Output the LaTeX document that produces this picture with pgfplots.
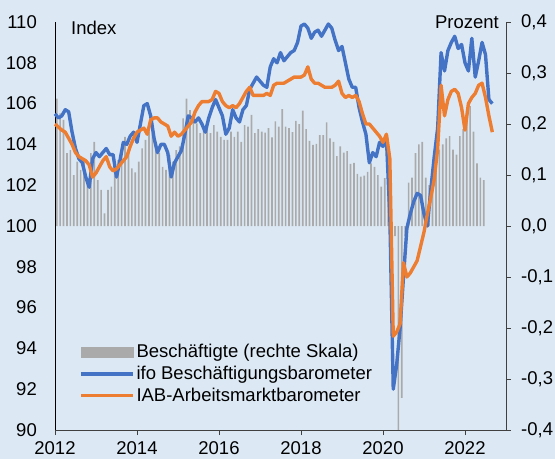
\documentclass[border=0pt]{standalone}
\usepackage{pgfplots}
\pgfplotsset{compat=1.18}
\usepackage{pgfplotstable}
\usepackage{fontspec}
\setmainfont{Liberation Sans}
\definecolor{bg}{RGB}{220,233,245}
\definecolor{ifoblue}{RGB}{68,114,196}
\definecolor{iaborange}{RGB}{237,125,49}
\definecolor{bargray}{RGB}{170,170,170}

\pgfplotstableread{
j v
0 0.250
1 0.221
2 0.208
3 0.143
4 0.149
5 0.100
6 0.126
7 0.110
8 0.129
9 0.090
10 0.143
11 0.165
12 0.090
13 0.071
14 0.025
15 0.071
16 0.077
17 0.110
18 0.129
19 0.149
20 0.175
21 0.149
22 0.113
23 0.105
24 0.126
25 0.152
26 0.169
27 0.185
28 0.182
29 0.156
30 0.143
31 0.116
32 0.110
33 0.139
34 0.126
35 0.149
36 0.156
37 0.211
38 0.250
39 0.227
40 0.218
41 0.201
42 0.182
43 0.192
44 0.201
45 0.182
46 0.198
47 0.185
48 0.175
49 0.169
50 0.169
51 0.185
52 0.175
53 0.185
54 0.165
55 0.198
56 0.195
57 0.218
58 0.182
59 0.190
60 0.185
61 0.183
62 0.192
63 0.174
64 0.205
65 0.195
66 0.229
67 0.195
68 0.192
69 0.184
70 0.206
71 0.200
72 0.226
73 0.190
74 0.167
75 0.159
76 0.161
77 0.178
78 0.178
79 0.203
80 0.172
81 0.165
82 0.137
83 0.156
84 0.144
85 0.147
86 0.122
87 0.124
88 0.102
89 0.097
90 0.099
91 0.106
92 0.123
93 0.116
94 0.100
95 0.077
96 0.094
97 0.080
98 0.000
99 -0.020
100 -0.400
101 -0.337
102 -0.020
103 0.085
104 0.095
105 0.143
106 0.160
107 0.165
108 0.095
109 0.080
110 0.100
111 0.123
112 0.150
113 0.160
114 0.172
115 0.176
116 0.150
117 0.140
118 0.176
119 0.190
120 0.215
121 0.235
122 0.185
123 0.123
124 0.095
125 0.090
}\bars

\pgfplotstableread{
i v
0 105.5
1 105.3
2 105.4
3 105.7
4 105.6
5 104.6
6 103.8
7 103.3
8 103.1
9 102.4
10 101.9
11 103.3
12 103.6
13 103.4
14 103.6
15 103.8
16 103.5
17 103.5
18 102.4
19 103.2
20 104.1
21 104.0
22 104.4
23 104.6
24 104.1
25 105.0
26 105.9
27 106.0
28 105.4
29 104.3
30 103.6
31 104.0
32 104.0
33 103.6
34 102.4
35 103.1
36 103.4
37 103.7
38 104.5
39 105.4
40 105.3
41 105.1
42 105.3
43 105.0
44 104.6
45 105.3
46 105.8
47 106.2
48 105.8
49 105.4
50 104.5
51 104.8
52 105.7
53 105.3
54 105.1
55 105.7
56 105.9
57 106.7
58 107.0
59 107.3
60 107.1
61 106.9
62 106.8
63 107.8
64 108.2
65 108.0
66 108.5
67 108.1
68 108.3
69 108.5
70 108.6
71 109.0
72 109.8
73 109.9
74 109.7
75 109.2
76 109.5
77 109.6
78 109.3
79 109.6
80 109.9
81 109.7
82 109.1
83 108.6
84 108.8
85 108.0
86 107.2
87 106.8
88 106.8
89 105.8
90 105.1
91 104.5
92 103.1
93 103.6
94 103.4
95 104.1
96 103.9
97 104.3
98 100.5
99 92.0
100 93.2
101 95.0
102 97.5
103 99.9
104 100.6
105 101.2
106 101.6
107 101.5
108 100.6
109 100.0
110 101.8
111 103.4
112 104.8
113 108.5
114 107.6
115 108.6
116 109.0
117 109.3
118 108.7
119 108.9
120 108.0
121 107.6
122 109.2
123 107.3
124 108.1
125 109.0
126 108.4
127 106.2
128 106.0
}\ifo

\pgfplotstableread{
i v
0 105.0
1 104.85
2 104.7
3 104.6
4 104.3
5 104.0
6 103.6
7 103.4
8 103.3
9 103.2
10 103.0
11 102.4
12 102.6
13 102.9
14 103.2
15 103.4
16 102.9
17 102.7
18 102.8
19 103.0
20 103.2
21 103.4
22 103.9
23 104.3
24 104.6
25 104.7
26 104.8
27 104.5
28 105.2
29 105.3
30 105.3
31 105.1
32 105.0
33 104.9
34 104.4
35 104.6
36 104.4
37 104.5
38 104.7
39 104.9
40 105.1
41 105.6
42 105.9
43 106.1
44 106.1
45 106.1
46 106.2
47 106.6
48 106.5
49 106.1
50 105.9
51 105.8
52 105.9
53 105.8
54 106.0
55 106.3
56 106.6
57 106.8
58 106.4
59 106.4
60 106.4
61 106.4
62 106.5
63 106.4
64 106.9
65 107.0
66 107.0
67 107.0
68 107.1
69 107.2
70 107.3
71 107.3
72 107.3
73 107.4
74 107.8
75 107.2
76 107.0
77 107.0
78 106.9
79 106.8
80 106.8
81 106.8
82 106.9
83 107.1
84 106.5
85 106.3
86 106.4
87 106.3
88 106.4
89 106.1
90 105.5
91 105.0
92 105.0
93 104.8
94 104.6
95 104.4
96 104.1
97 104.5
98 103.3
99 94.6
100 94.8
101 95.2
102 98.2
103 97.5
104 97.7
105 98.0
106 98.3
107 99.0
108 99.7
109 100.6
110 101.4
111 102.3
112 103.8
113 106.9
114 105.4
115 106.2
116 106.6
117 106.7
118 106.5
119 105.8
120 104.7
121 106.0
122 106.3
123 106.5
124 106.9
125 107.0
126 106.3
127 105.4
128 104.6
}\iab

\begin{document}
\begin{tikzpicture}[font=\fontsize{18.5}{22}\selectfont]
\fill[bg] (0,0) rectangle (555pt,459pt);
\path[use as bounding box] (0,0) rectangle (555pt,459pt);
% bars, right axis
\begin{axis}[
  at={(55pt,29pt)}, anchor=south west,
  scale only axis, width=451pt, height=408pt,
  xmin=2012, xmax=2023, ymin=-0.4, ymax=0.4,
  axis x line=none, axis y line*=right,
  axis line style={-, draw=black!75, line width=1pt},
  ytick={-0.4,-0.3,-0.2,-0.1,0,0.1,0.2,0.3,0.4},
  tick align=outside, major tick length=5pt,
  ytick style={draw=black!75, line width=1pt},
  yticklabel style={anchor=west, inner sep=0pt, xshift=10pt,
    /pgf/number format/.cd, fixed, fixed zerofill, precision=1, use comma, assume math mode=true},
]
\addplot[ybar, bar width=1.7pt, fill=bargray, draw=none]
  table[x expr=2012+(\thisrow{j}+0.5)/12, y=v] {\bars};
\end{axis}
% lines, left axis
\begin{axis}[
  at={(55pt,29pt)}, anchor=south west,
  scale only axis, width=451pt, height=408pt,
  xmin=2012, xmax=2023, ymin=90, ymax=110,
  axis x line*=bottom, axis y line*=left,
  axis line style={-, draw=black, line width=1pt},
  x axis line style={draw=black!75},
  clip=false,
  xtick={2012,2014,2016,2018,2020,2022},
  ytick={90,92,...,110},
  tick align=outside, major tick length=5pt,
  ytick style={draw=none},
  xtick style={draw=black!75, line width=1pt},
  yticklabel style={anchor=east, inner sep=0pt, xshift=-13pt},
  xticklabel style={anchor=north, inner sep=0pt, yshift=-6pt},
  /pgf/number format/1000 sep={},
  /pgf/number format/assume math mode=true,
  legend style={at={(axis description cs:0.053,0.215)}, anchor=north west,
    draw=none, fill=none, inner sep=0pt, row sep=3pt,
    cells={anchor=west}, font=\fontsize{18.5}{22}\selectfont},
  legend cell align=left,
]
\addlegendimage{legend image code/.code={\fill[bargray] (0pt,-5pt) rectangle (52pt,5pt);}}
\addlegendentry{Beschäftigte (rechte Skala)}
\addlegendimage{legend image code/.code={\draw[ifoblue, line width=3.4pt] (0pt,0pt) -- (52pt,0pt);}}
\addlegendentry{ifo Beschäftigungsbarometer}
\addlegendimage{legend image code/.code={\draw[iaborange, line width=3.4pt] (0pt,0pt) -- (52pt,0pt);}}
\addlegendentry{IAB-Arbeitsmarktbarometer}
\addplot[ifoblue, line width=3.4pt, line join=round, forget plot]
  table[x expr=2012+\thisrow{i}/12, y=v] {\ifo};
\addplot[iaborange, line width=3.4pt, line join=round, forget plot]
  table[x expr=2012+\thisrow{i}/12, y=v] {\iab};
\end{axis}
\node[anchor=base west, inner sep=0pt] at (71pt,424pt) {Index};
\node[anchor=base east, inner sep=0pt] at (499pt,430.7pt) {Prozent};
\end{tikzpicture}
\end{document}
